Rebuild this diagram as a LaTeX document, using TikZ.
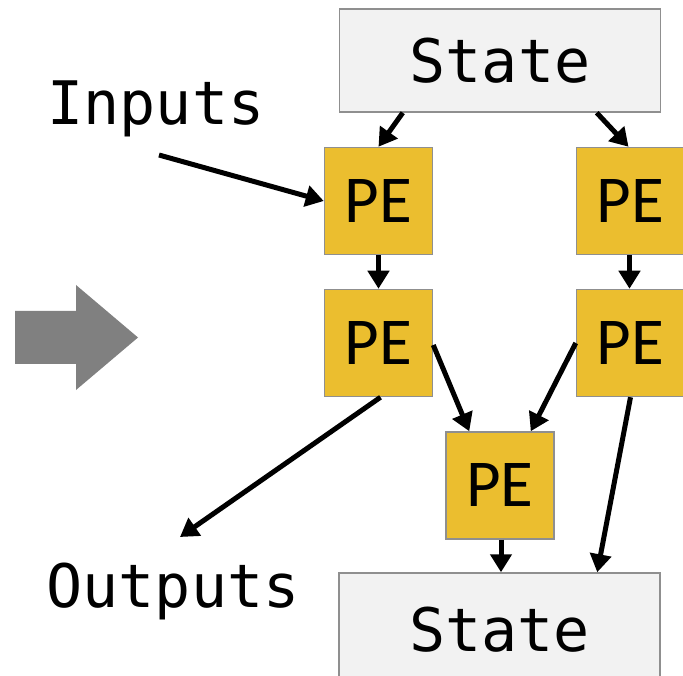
\documentclass[tikz,border=0pt]{standalone}
\usepackage{fontspec}
\setmonofont{DejaVu Sans Mono}
\newfontfamily\pefont{Carlito}
\usetikzlibrary{arrows.meta,calc}
\definecolor{pegold}{HTML}{EBBE2F}
\definecolor{boxgray}{HTML}{8F8F8F}
\definecolor{statefill}{HTML}{F2F2F2}
\definecolor{bigarrow}{HTML}{808080}
\begin{document}
\begin{tikzpicture}[x=1pt,y=-1pt,
  statebox/.style={draw=boxgray,line width=1.5pt,fill=statefill,minimum width=321pt,minimum height=103pt,inner sep=0pt,font=\ttfamily\fontsize{60pt}{60pt}\selectfont},
  pebox/.style={draw=boxgray,line width=1.5pt,fill=pegold,minimum width=108pt,minimum height=107pt,inner sep=0pt,font=\pefont\fontsize{67pt}{67pt}\selectfont},
  lbl/.style={anchor=base,inner sep=0pt,font=\ttfamily\fontsize{60pt}{60pt}\selectfont},
  conn/.style={line width=5pt,-{Triangle[length=18pt,width=21pt]}}]
\useasboundingbox (0,0) rectangle (683,676);
\fill[white] (0,0) rectangle (683,676);
% big gray arrow
\fill[bigarrow] (15,311) -- (76,311) -- (76,285) -- (138,337.5) -- (76,390) -- (76,364) -- (15,364) -- cycle;
% nodes
\node[statebox] (st) at (500,60.5) {State};
\node[statebox,minimum height=119pt] (sb) at (499.5,632.5) {\raisebox{7pt}{State}};
\node[pebox] (pe1) at (378.5,201) {PE};
\node[pebox] (pe2) at (630.5,201) {PE};
\node[pebox] (pe3) at (378.5,343) {PE};
\node[pebox] (pe4) at (630.5,343) {PE};
\node[pebox] (pe5) at (500,485.5) {PE};
\node[lbl] (in) at (156,125) {Inputs};
\node[lbl] (out) at (173,607) {Outputs};
% connectors
\draw[conn] ([xshift=64pt]st.south west) -- (pe1.north);
\draw[conn] ([xshift=258pt]st.south west) -- ([xshift=-2pt]pe2.north);
\draw[conn] ([shift={(3,30)}]in.base) -- (pe1.west);
\draw[conn] (pe1.south) -- (pe3.north);
\draw[conn] ([xshift=-1pt]pe2.south) -- ([xshift=-1pt]pe4.north);
\draw[conn] ([yshift=-2pt]pe3.east) -- ([xshift=24pt]pe5.north west);
\draw[conn] (pe4.west) -- ([xshift=-24pt]pe5.north east);
\draw[conn] (pe4.south) -- ([xshift=259pt]sb.north west);
\draw[conn] ([xshift=1pt]pe5.south) -- ([xshift=1.5pt]sb.north);
\draw[conn] ([xshift=2pt]pe3.south) -- ([shift={(7,-70)}]out.base);
\end{tikzpicture}
\end{document}
